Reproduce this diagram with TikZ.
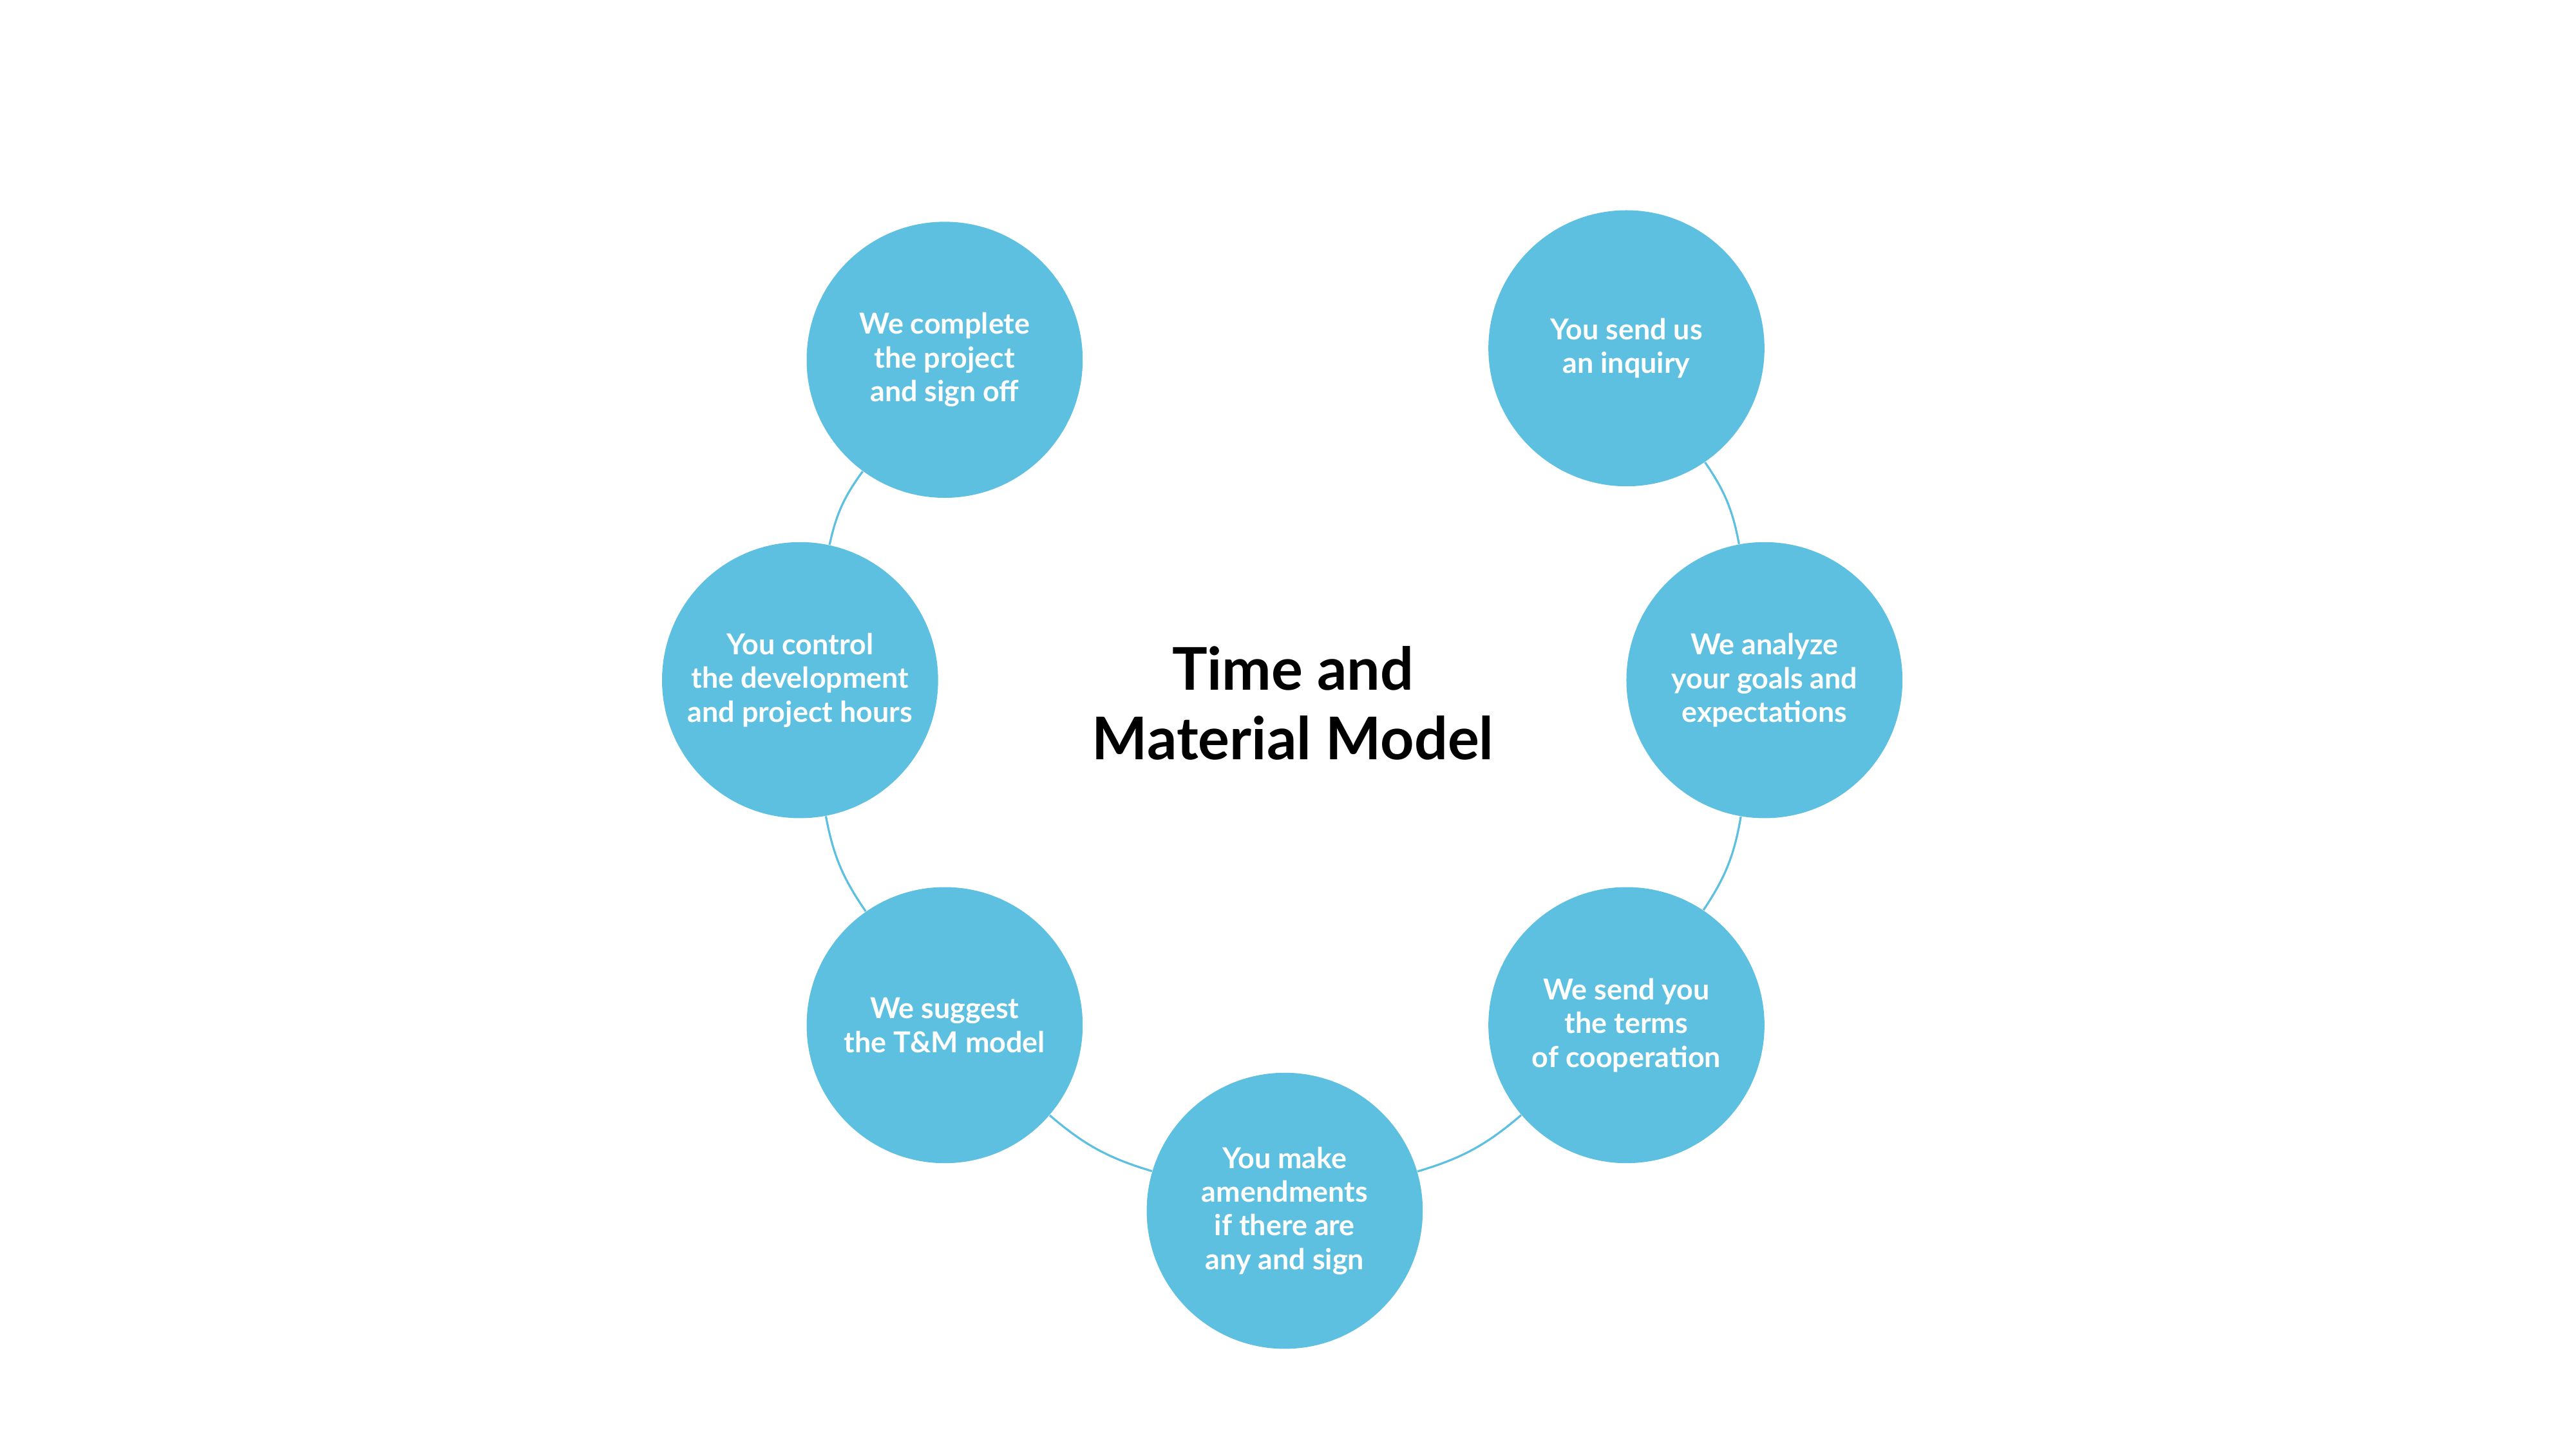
\documentclass[tikz,border=0pt]{standalone}
\usepackage{fontspec}
\setmainfont{Lato}
\usetikzlibrary{positioning}
\definecolor{stepblue}{HTML}{5EC0E0}
\begin{document}
\begin{tikzpicture}[
    x=0.025cm, y=-0.025cm,
    every node/.style={align=center},
    stepcircle/.style={circle, fill=stepblue, minimum size=4.2cm, inner sep=0pt,
      text=white, font=\fontsize{12.5}{14.6}\selectfont\bfseries},
    link/.style={draw=stepblue, line width=0.9pt}
]
\useasboundingbox (0,0) rectangle (1568,882);

% Steps
\node[stepcircle] (inquiry) at (990,212) {You send us\\an inquiry};
\node[stepcircle] (analyze) at (1074,414) {We analyze\\your goals and\\expectations};
\node[stepcircle] (terms) at (990,624) {We send you\\the terms\\of cooperation};
\node[stepcircle] (sign) at (782,737) {You make\\amendments\\if there are\\any and sign};
\node[stepcircle] (suggest) at (575,624) {We suggest\\the T\&M model};
\node[stepcircle] (control) at (487,414) {You control\\the development\\and project hours};
\node[stepcircle] (complete) at (575,219) {We complete\\the project\\and sign off};

% Title
\node[font=\fontsize{25.5}{30}\selectfont\bfseries] (title) at (787,428) {Time and\\Material Model};

% Links
\draw[link] (inquiry) to[bend left=12] (analyze);
\draw[link] (analyze) to[bend left=12] (terms);
\draw[link] (terms) to[bend left=12] (sign);
\draw[link] (sign) to[bend left=12] (suggest);
\draw[link] (suggest) to[bend left=12] (control);
\draw[link] (control) to[bend left=12] (complete);
\end{tikzpicture}
\end{document}
